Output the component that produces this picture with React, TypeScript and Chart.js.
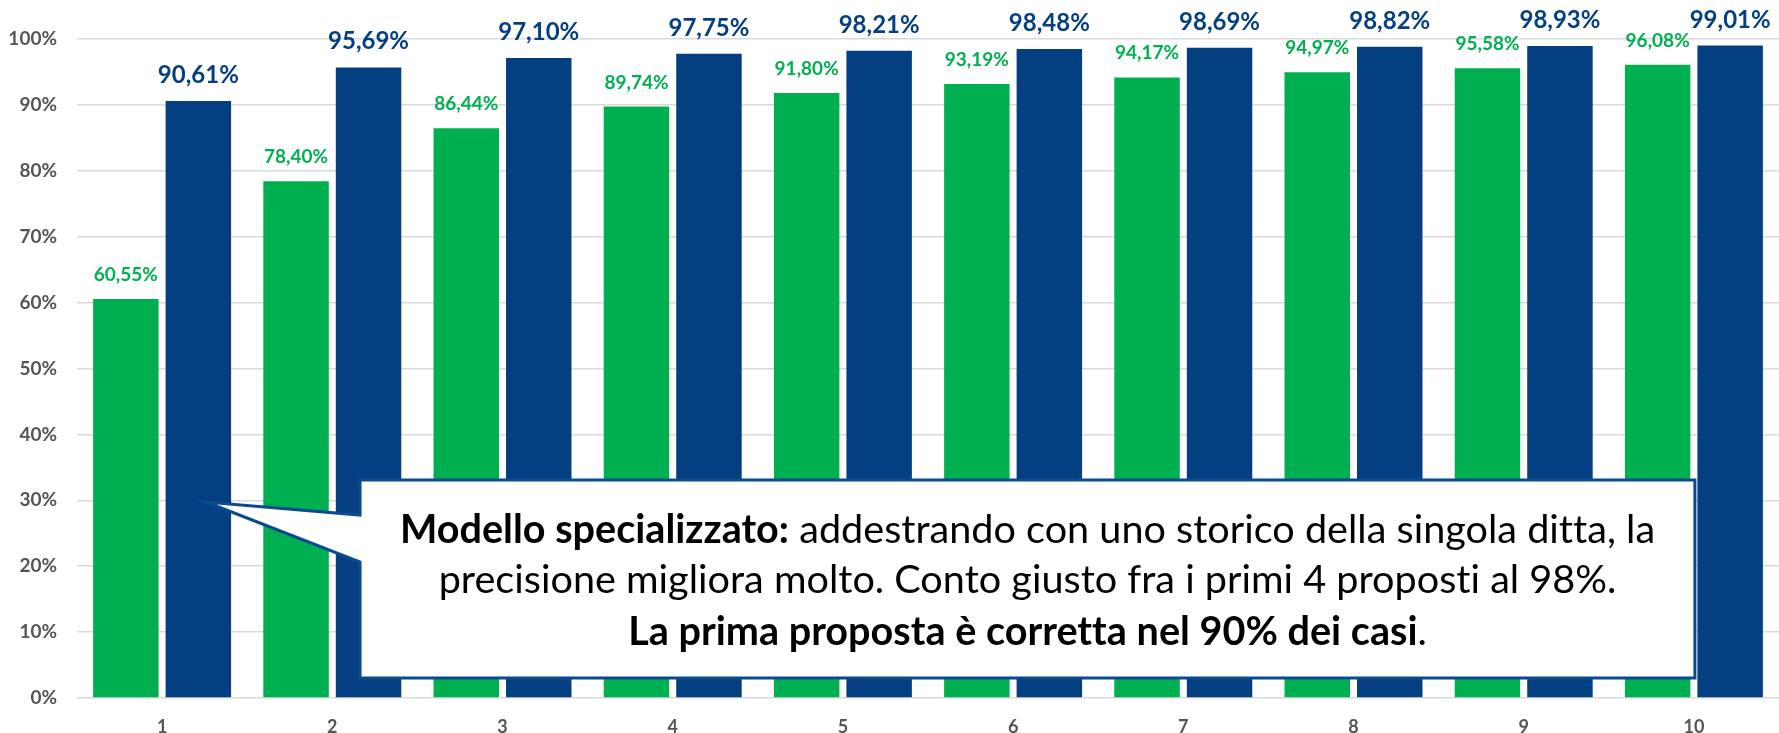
import React, { useEffect, useRef } from "react";
import { Chart, registerables } from "chart.js";

Chart.register(...registerables);

const categories = ["1", "2", "3", "4", "5", "6", "7", "8", "9", "10"];
const greenValues = [60.55, 78.4, 86.44, 89.74, 91.8, 93.19, 94.17, 94.97, 95.58, 96.08];
const blueValues = [90.61, 95.69, 97.1, 97.75, 98.21, 98.48, 98.69, 98.82, 98.93, 99.01];
const yMin = 0;
const yMax = 100;
const yStep = 10;

const calloutLines: { text: string; bold: boolean }[][] = [
  [
    { text: "Modello specializzato:", bold: true },
    { text: " addestrando con uno storico della singola ditta, la", bold: false },
  ],
  [{ text: "precisione migliora molto. Conto giusto fra i primi 4 proposti al 98%.", bold: false }],
  [
    { text: "La prima proposta è corretta nel 90% dei casi", bold: true },
    { text: ".", bold: false },
  ],
];

const GREEN = "#00B050";
const BLUE = "#043F81";
const GRAY = "#555555";
const FONT = "Lato";

const fmt = (v: number) => v.toFixed(2).replace(".", ",") + "%";

const dataLabelPlugin = {
  id: "dataLabels",
  afterDatasetsDraw(chart: any) {
    const ctx = chart.ctx;
    ctx.save();
    chart.data.datasets.forEach((ds: any, di: number) => {
      const meta = chart.getDatasetMeta(di);
      const isBlue = di === 1;
      ctx.font = `bold ${isBlue ? 24 : 19}px ${FONT}`;
      ctx.fillStyle = isBlue ? BLUE : GREEN;
      ctx.textAlign = "center";
      ctx.textBaseline = "alphabetic";
      meta.data.forEach((el: any, i: number) => {
        ctx.fillText(fmt(ds.data[i]), el.x, el.y - 18);
      });
    });
    ctx.restore();
  },
};

const calloutPlugin = {
  id: "callout",
  afterDraw(chart: any) {
    const ctx = chart.ctx;
    const xs = chart.scales.x;
    const ys = chart.scales.y;
    const X = (v: number) => xs.getPixelForValue(v);
    const Y = (v: number) => ys.getPixelForValue(v);
    const left = X(1.163);
    const right = X(9.006);
    const top = Y(33.08);
    const bottom = Y(3.03);
    const tipX = X(0.258);
    const tipY = Y(29.74);
    const baseTop = Y(27.77);
    const baseBot = Y(20.64);

    ctx.save();
    ctx.beginPath();
    ctx.moveTo(left, top);
    ctx.lineTo(right, top);
    ctx.lineTo(right, bottom);
    ctx.lineTo(left, bottom);
    ctx.lineTo(left, baseBot);
    ctx.lineTo(tipX, tipY);
    ctx.lineTo(left, baseTop);
    ctx.closePath();
    ctx.fillStyle = "#FFFFFF";
    ctx.fill();
    ctx.lineWidth = 3;
    ctx.strokeStyle = "#0B4A8F";
    ctx.lineJoin = "miter";
    ctx.stroke();

    // text
    try {
      (ctx as any).letterSpacing = "0.01px";
    } catch (e) {}
    const measureLine = (line: { text: string; bold: boolean }[], size: number) =>
      line.reduce((w, seg) => {
        ctx.font = `${seg.bold ? "bold " : ""}${size}px ${FONT}`;
        return w + ctx.measureText(seg.text).width;
      }, 0);
    const targetW = 1256;
    const size = (30 * targetW) / measureLine(calloutLines[0], 30);
    const cx = (left + right) / 2;
    const baselines = [top + 63, top + 113, top + 165];
    ctx.fillStyle = "#000000";
    ctx.textBaseline = "alphabetic";
    ctx.textAlign = "left";
    calloutLines.forEach((line, li) => {
      const w = measureLine(line, size);
      let x = cx - w / 2;
      line.forEach((seg) => {
        ctx.font = `${seg.bold ? "bold " : ""}${size}px ${FONT}`;
        ctx.fillText(seg.text, x, baselines[li]);
        x += ctx.measureText(seg.text).width;
      });
    });
    ctx.restore();
  },
};

export default function App() {
  const ref = useRef<HTMLCanvasElement>(null);
  useEffect(() => {
    if (!ref.current) return;
    const chart = new Chart(ref.current, {
      type: "bar",
      data: {
        labels: categories,
        datasets: [
          {
            data: greenValues,
            backgroundColor: GREEN,
            categoryPercentage: 0.852,
            barPercentage: 0.903,
          },
          {
            data: blueValues,
            backgroundColor: BLUE,
            categoryPercentage: 0.852,
            barPercentage: 0.903,
          },
        ],
      },
      options: {
        responsive: false,
        animation: false,
        layout: { padding: { top: 39, left: 0, right: 0, bottom: 0 } },
        plugins: {
          legend: { display: false },
          tooltip: { enabled: false },
          title: { display: false },
        },
        scales: {
          x: {
            grid: { display: false },
            border: { display: false },
            ticks: {
              color: GRAY,
              font: { family: FONT, size: 18, weight: "bold" },
              padding: 10,
            },
            afterFit: (s: any) => {
              s.height = 35;
            },
          },
          y: {
            min: yMin,
            max: yMax,
            border: { display: false },
            grid: { color: "#D9D9D9", lineWidth: 1.5, drawTicks: false },
            ticks: {
              stepSize: yStep,
              color: GRAY,
              font: { family: FONT, size: 19, weight: "bold" },
              padding: 20,
              callback: (v: any) => v + "%",
            },
            afterFit: (s: any) => {
              s.width = 77;
            },
          },
        },
      },
      plugins: [dataLabelPlugin, calloutPlugin],
    });
    return () => chart.destroy();
  }, []);
  return (
    <div style={{ position: "absolute", left: 0, top: 0, width: 1779, height: 733, background: "#fff" }}>
      <canvas ref={ref} width={1779} height={733} style={{ display: "block" }} />
    </div>
  );
}
